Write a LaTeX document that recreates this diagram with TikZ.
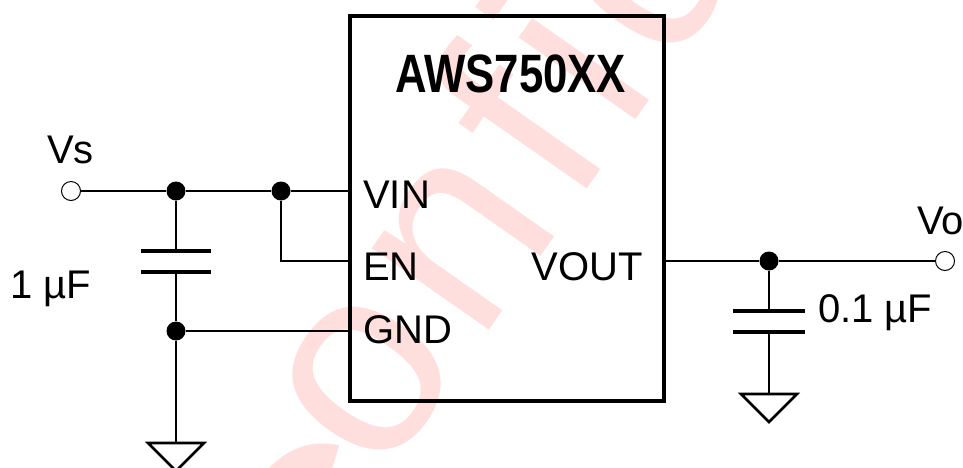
\documentclass[tikz,border=0pt]{standalone}
\usepackage{fontspec}
\setmainfont{Liberation Sans}
\usetikzlibrary{positioning}
\definecolor{wmpink}{rgb}{1,0.87,0.87}

\begin{document}
\begin{tikzpicture}[x=1pt,y=-1pt,
  wire/.style={line width=2.9pt},
  plate/.style={line width=3.2pt},
  gnd/.style={line width=2.6pt,line join=miter},
  dot/.style={circle,fill,inner sep=0pt,minimum size=19pt},
  port/.style={circle,draw,fill=white,line width=1pt,inner sep=0pt,minimum size=19pt},
  pin/.style={font=\fontsize{40}{48}\selectfont,inner sep=0pt,anchor=base west},
  wmark/.style={font=\fontsize{270}{270}\selectfont\addfontfeatures{LetterSpace=6},text=wmpink,inner sep=0pt}]
\useasboundingbox (0,0) rectangle (963,467);
\node[wmark,rotate=55,anchor=base west] (wm) at (280,628) {\raisebox{-87pt}{C}\kern-16pt onfidential};
% regulator
\node[draw,line width=3.6pt,minimum width=314pt,minimum height=385pt,inner sep=0pt] (ic) at (507,208.5) {};
\node[pin,anchor=base west,font=\fontsize{54}{60}\selectfont\bfseries] (name) at (395,92) {\scalebox{0.81}[1]{AWS750XX}};
\node[pin] (vin) at (363,208) {VIN};
\node[pin] (en) at (363,280) {EN};
\node[pin] (gnd) at (363,343) {GND};
\node[pin,anchor=base east] (vout) at (643,280) {VOUT};
% input side
\node[port] (vs) at (71,191) {};
\node[pin] (vslbl) at (47,163) {Vs};
\node[dot] (j1) at (176,191) {};
\node[dot] (j2) at (281,191) {};
\node[dot] (jg) at (176,331) {};
\coordinate (c1a) at (176,251);
\coordinate (c1b) at (176,272);
\coordinate (g1) at (176,443);
\node[pin] (c1lbl) at (10,298) {1 µF};
% output side
\node[dot] (jo) at (769,261) {};
\node[port] (vo) at (945,261) {};
\node[pin] (volbl) at (917,234) {Vo};
\coordinate (c2a) at (769,311);
\coordinate (c2b) at (769,332);
\coordinate (g2) at (769,394);
\node[pin] (c2lbl) at (818,322) {0.1 µF};

\draw[wire] (vs) -- (j1) -- (j2) -- (j2 -| ic.west);
\draw[wire] (j2) |- (ic.west |- jo);
\draw[wire] (j1) -- (c1a);
\draw[wire] (c1b) -- (jg) -- (jg -| ic.west);
\draw[wire] (jg) -- (g1);
\draw[plate] ([xshift=-35]c1a) -- ([xshift=35]c1a);
\draw[plate] ([xshift=-35]c1b) -- ([xshift=35]c1b);
\draw[gnd] ([xshift=-28]g1) -- ([xshift=28]g1) -- ([yshift=-28]g1) -- cycle;

\draw[wire] (ic.east |- jo) -- (jo) -- (vo);
\draw[wire] (jo) -- (c2a);
\draw[wire] (c2b) -- (g2);
\draw[plate] ([xshift=-36]c2a) -- ([xshift=36]c2a);
\draw[plate] ([xshift=-36]c2b) -- ([xshift=36]c2b);
\draw[gnd] ([xshift=-28]g2) -- ([xshift=28]g2) -- ([yshift=-28]g2) -- cycle;
\end{tikzpicture}
\end{document}
